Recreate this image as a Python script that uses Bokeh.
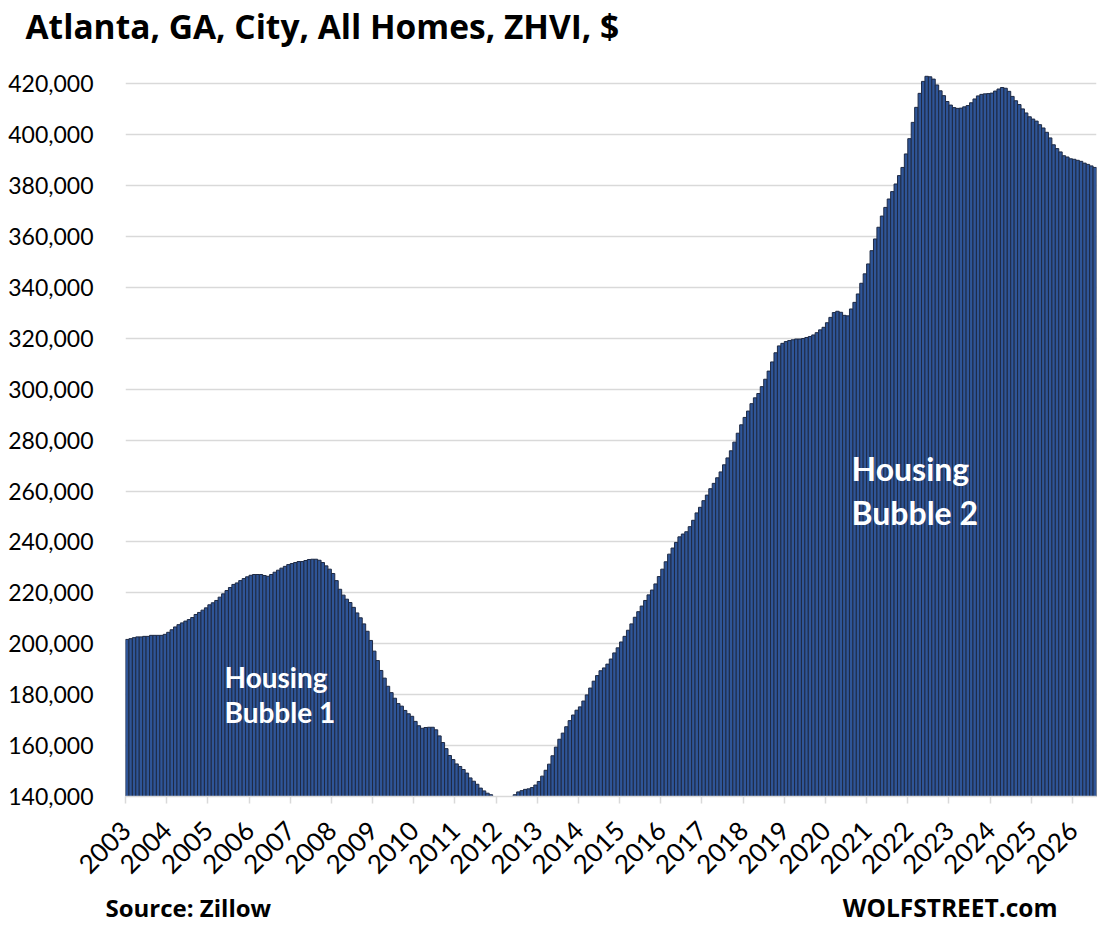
import math
from bokeh.plotting import figure
from bokeh.models import Range1d, FixedTicker, NumeralTickFormatter, Label, ColumnDataSource
from bokeh.layouts import column
from bokeh.core.properties import value
from bokeh.embed import file_html
from bokeh.resources import INLINE

# ---------------- data (Atlanta city ZHVI, $, monthly from Jan 2003) ----------------
years = [str(y) for y in range(2003, 2027)]

v2003 = [201700, 202000, 202400, 202700, 202700, 202900, 202900, 203300, 203300, 203300, 203300, 203700]
v2004 = [204500, 205500, 206600, 207500, 208200, 208900, 209500, 210300, 211500, 212300, 213200, 214100]
v2005 = [215300, 216100, 217000, 218300, 219600, 220900, 222100, 223300, 223900, 224800, 225600, 226300]
v2006 = [226900, 227200, 227200, 227200, 226800, 226500, 227200, 228100, 228900, 229700, 230400, 231100]
v2007 = [231500, 231900, 232300, 232300, 232700, 233100, 233200, 233200, 232800, 231900, 230600, 229300]
v2008 = [227600, 224800, 221400, 219100, 217500, 216200, 214300, 212100, 210200, 207800, 204900, 201300]
v2009 = [197100, 193400, 189500, 186500, 183300, 180800, 178600, 176500, 175500, 173800, 172500, 171500]
v2010 = [169500, 167800, 166800, 167100, 167200, 167200, 166200, 163800, 161200, 158800, 156100, 154500]
v2011 = [152800, 151800, 150600, 149200, 147300, 146000, 144800, 143300, 142200, 141300, 140700, 139900]
v2012 = [139300, 138900, 138900, 139300, 139900, 140700, 141800, 142300, 142800, 143000, 143500, 144500]
v2013 = [145900, 148000, 150300, 152700, 156000, 159400, 162500, 164900, 167400, 169800, 172000, 173900]
v2014 = [175200, 177500, 179900, 182600, 185300, 187500, 189400, 190500, 192000, 194000, 196400, 198400]
v2015 = [200700, 202900, 205300, 207800, 210400, 212600, 214800, 217000, 219200, 221100, 223500, 226400]
v2016 = [229300, 232200, 235200, 237600, 239800, 242000, 243100, 244000, 246000, 248500, 251400, 253600]
v2017 = [256200, 258400, 260900, 263000, 265200, 267500, 270300, 273000, 275800, 279200, 282700, 286000]
v2018 = [288900, 291400, 294300, 296600, 298300, 301000, 303900, 307100, 310700, 314300, 317000, 318000]
v2019 = [318700, 319100, 319400, 319700, 319700, 319900, 320300, 320700, 321300, 322200, 323300, 324300]
v2020 = [326100, 328200, 330100, 330600, 330200, 329000, 328800, 331500, 334100, 337400, 341600, 345300]
v2021 = [349200, 354400, 359000, 363600, 368000, 371400, 374700, 377600, 380600, 383900, 387100, 392400]
v2022 = [398400, 404800, 410700, 416200, 420900, 422900, 422700, 421800, 419500, 417200, 415300, 413000]
v2023 = [411600, 410600, 410300, 410400, 410900, 411400, 412500, 414000, 415200, 415800, 416000, 416100]
v2024 = [416300, 417100, 417900, 418500, 418200, 417000, 415000, 413300, 411800, 410100, 408500, 407000]
v2025 = [406100, 405300, 403900, 402600, 400900, 398700, 396000, 394500, 393200, 391700, 391200, 390500]
v2026 = [390300, 389900, 389500, 388800, 388300, 387700, 387100]

values = (v2003 + v2004 + v2005 + v2006 + v2007 + v2008 + v2009 + v2010 + v2011 + v2012 +
          v2013 + v2014 + v2015 + v2016 + v2017 + v2018 + v2019 + v2020 + v2021 + v2022 +
          v2023 + v2024 + v2025 + v2026)

y_ticks = list(range(140000, 420001, 20000))

title_text = "Atlanta, GA, City, All Homes, ZHVI, $"
source_text = "Source: Zillow"
brand_text = "WOLFSTREET.com"

FONT = "Lato"
HFONT = "Open Sans"
W = 1100


def no_frame_align(fig):
    try:
        fig.frame_align = False
    except Exception:
        pass


# ---------------- header (title) ----------------
HDR_H = 56
hdr = figure(width=W, height=HDR_H, x_range=Range1d(0, W), y_range=Range1d(HDR_H, 0),
             x_axis_type=None, y_axis_type=None, output_backend="svg",
             toolbar_location=None, min_border=0)
hdr.outline_line_color = None
hdr.grid.visible = False
no_frame_align(hdr)
hdr.text(x=[25], y=[25], text=[title_text], text_font=value(HFONT),
         text_font_style="bold", text_font_size="33.5px", text_color="black",
         text_baseline="middle", text_align="left")

# ---------------- main chart ----------------
n = len(values)
p = figure(width=W, height=834,
           x_range=Range1d(0, n), y_range=Range1d(140000, 424000),
           output_backend="svg", toolbar_location=None,
           min_border_left=125, min_border_right=4,
           min_border_top=17, min_border_bottom=94)
p.outline_line_color = None
p.background_fill_color = "white"
p.border_fill_color = "white"

src = ColumnDataSource(dict(x=[i + 0.5 for i in range(n)], top=values))
p.vbar(x="x", top="top", bottom=140000, width=1.0, source=src,
       fill_color="#2F5597", line_color="#1E2A44", line_width=1)

# y axis
p.yaxis.ticker = FixedTicker(ticks=y_ticks)
p.yaxis.formatter = NumeralTickFormatter(format="0,0")
p.yaxis.axis_line_color = None
p.yaxis.major_tick_line_color = None
p.yaxis.minor_tick_line_color = None
p.yaxis.major_label_standoff = 26
p.yaxis.major_label_text_font = FONT
p.yaxis.major_label_text_font_size = "23px"
p.yaxis.major_label_text_color = "black"

p.ygrid.ticker = FixedTicker(ticks=y_ticks)
p.ygrid.grid_line_color = "#D9D9D9"
p.ygrid.grid_line_width = 1.5
p.xgrid.grid_line_color = None

# x axis
x_tick_pos = [12 * k for k in range(len(years))]
p.xaxis.ticker = FixedTicker(ticks=x_tick_pos)
p.xaxis.major_label_overrides = {t: y for t, y in zip(x_tick_pos, years)}
p.xaxis.major_label_orientation = math.pi / 4
p.xaxis.axis_line_color = "#D9D9D9"
p.xaxis.axis_line_width = 1.5
p.xaxis.major_tick_line_color = "#D9D9D9"
p.xaxis.major_tick_line_width = 1.5
p.xaxis.major_tick_out = 7
p.xaxis.major_tick_in = 0
p.xaxis.minor_tick_line_color = None
p.xaxis.major_label_standoff = 22
p.xaxis.major_label_text_font = FONT
p.xaxis.major_label_text_font_size = "26px"
p.xaxis.major_label_text_color = "black"

# annotations inside the frame (screen units from the frame's bottom-left)
def add_label(text, x, y, size):
    p.add_layout(Label(x=x, y=y, x_units="screen", y_units="screen", text=text,
                       text_font=FONT, text_font_style="bold", text_font_size=size,
                       text_color="white", text_align="left", text_baseline="middle"))

add_label("Housing", 99, 120, "28px")
add_label("Bubble 1", 99, 85, "28px")
add_label("Housing", 726, 328, "32px")
add_label("Bubble 2", 726, 284, "32px")

# ---------------- footer ----------------
FTR_H = 34
ftr = figure(width=W, height=FTR_H, x_range=Range1d(0, W), y_range=Range1d(FTR_H, 0),
             x_axis_type=None, y_axis_type=None, output_backend="svg",
             toolbar_location=None, min_border=0)
ftr.outline_line_color = None
ftr.grid.visible = False
no_frame_align(ftr)
ftr.text(x=[105], y=[17], text=[source_text], text_font=value(HFONT),
         text_font_style="bold", text_font_size="24px", text_color="black",
         text_baseline="middle", text_align="left")
ftr.text(x=[1057], y=[17], text=[brand_text], text_font=value(HFONT),
         text_font_style="bold", text_font_size="24.5px", text_color="black",
         text_baseline="middle", text_align="right")

layout = column(hdr, p, ftr, spacing=0)
open("out.html", "w").write(file_html(layout, INLINE))
